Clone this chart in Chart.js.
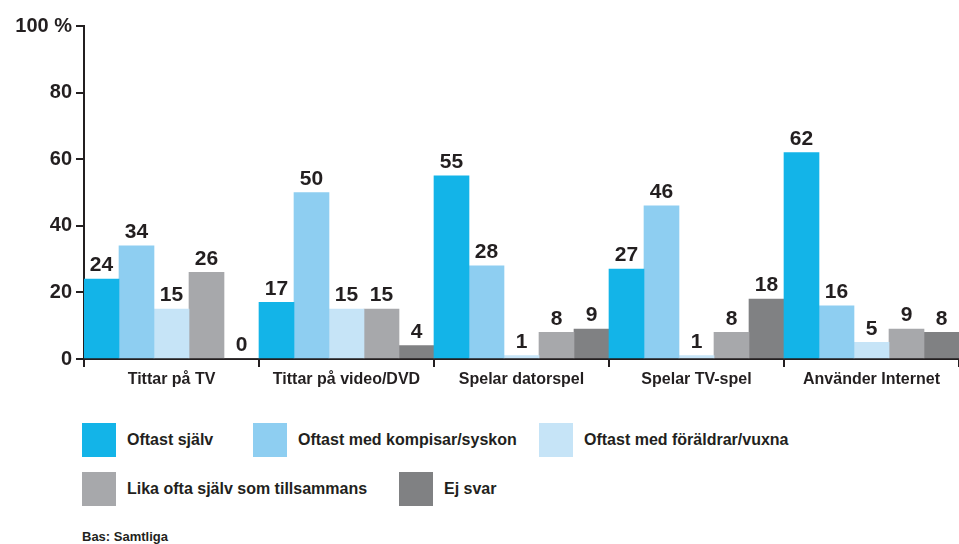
<!DOCTYPE html>
<html>
<head>
<meta charset="utf-8">
<script src="https://cdn.jsdelivr.net/npm/chart.js@4/dist/chart.umd.min.js"></script>
<style>
  html, body { margin: 0; padding: 0; background: #fff; }
  body { width: 959px; height: 544px; position: relative; overflow: hidden; font-family: "Liberation Sans", Arial, sans-serif; color: #231f20; }
  #wrap { position: absolute; left: 0; top: 0; width: 959px; height: 401px; }
  .lg { position: absolute; display: flex; align-items: center; font-weight: bold; font-size: 16px; }
  .lg span.box { display: inline-block; width: 34px; height: 34px; margin-right: 11px; }
  #note { position: absolute; left: 82px; top: 529px; font-size: 13px; font-weight: bold; }
</style>
</head>
<body>
<div id="wrap"><canvas id="c" width="959" height="401"></canvas></div>
<div id="legend"></div>
<div id="note">Bas: Samtliga</div>
<script>
const categories = ["Tittar på TV", "Tittar på video/DVD", "Spelar datorspel", "Spelar TV-spel", "Använder Internet"];
const seriesNames = ["Oftast själv", "Oftast med kompisar/syskon", "Oftast med föräldrar/vuxna", "Lika ofta själv som tillsammans", "Ej svar"];
const oftastSjalv     = [24, 17, 55, 27, 62];
const medKompisar     = [34, 50, 28, 46, 16];
const medForaldrar    = [15, 15, 1, 1, 5];
const likaOfta        = [26, 15, 8, 8, 9];
const ejSvar          = [0, 4, 9, 18, 8];
const yTicks = [0, 20, 40, 60, 80, 100];
const colors = ["#13b4e8", "#8ecef1", "#c6e4f7", "#a7a8ab", "#808183"];

const seriesValues = [oftastSjalv, medKompisar, medForaldrar, likaOfta, ejSvar];
const datasets = seriesNames.map((n, i) => ({
  label: n, data: seriesValues[i], backgroundColor: colors[i],
  barPercentage: 1, categoryPercentage: 1, borderWidth: 0
}));

const valueLabels = {
  id: 'valueLabels',
  afterDatasetsDraw(chart) {
    const ctx = chart.ctx;
    ctx.save();
    ctx.font = 'bold 21px "Liberation Sans", Arial, sans-serif';
    ctx.fillStyle = '#231f20';
    ctx.textAlign = 'center';
    ctx.textBaseline = 'bottom';
    chart.data.datasets.forEach((ds, di) => {
      chart.getDatasetMeta(di).data.forEach((bar, i) => {
        ctx.fillText(String(ds.data[i]), bar.x, bar.y - 3);
      });
    });
    ctx.restore();
  }
};

new Chart(document.getElementById('c'), {
  type: 'bar',
  data: { labels: categories, datasets },
  options: {
    responsive: false,
    animation: false,
    layout: { padding: { top: 26, right: 0, left: 0, bottom: 0 } },
    plugins: { legend: { display: false }, tooltip: { enabled: false } },
    scales: {
      x: {
        grid: { display: true, drawOnChartArea: false, drawTicks: true, tickLength: 8, offset: true, color: '#231f20', lineWidth: 2 },
        border: { display: true, color: '#231f20', width: 2 },
        ticks: { color: '#231f20', font: { family: '"Liberation Sans", Arial, sans-serif', size: 16, weight: 'bold' }, padding: 3, maxRotation: 0 },
        afterFit(s) { s.height = 42; }
      },
      y: {
        min: 0, max: 100,
        afterBuildTicks(s) { s.ticks = yTicks.map(v => ({ value: v })); },
        grid: { display: true, drawOnChartArea: false, drawTicks: true, tickLength: 8, color: '#231f20', lineWidth: 2 },
        border: { display: true, color: '#231f20', width: 2 },
        ticks: {
          color: '#231f20', padding: 4,
          font: { family: '"Liberation Sans", Arial, sans-serif', size: 20, weight: 'bold' },
          callback: v => v === 100 ? '100 %' : String(v)
        },
        afterFit(s) { s.width = 84; }
      }
    }
  },
  plugins: [valueLabels]
});

// HTML legend built from series
const legendPos = [[82, 423], [253, 423], [539, 423], [82, 472], [399, 472]];
const lg = document.getElementById('legend');
seriesNames.forEach((n, i) => {
  const d = document.createElement('div');
  d.className = 'lg';
  d.style.left = legendPos[i][0] + 'px';
  d.style.top = legendPos[i][1] + 'px';
  d.innerHTML = '<span class="box" style="background:' + colors[i] + '"></span>' + n;
  lg.appendChild(d);
});
</script>
</body>
</html>
